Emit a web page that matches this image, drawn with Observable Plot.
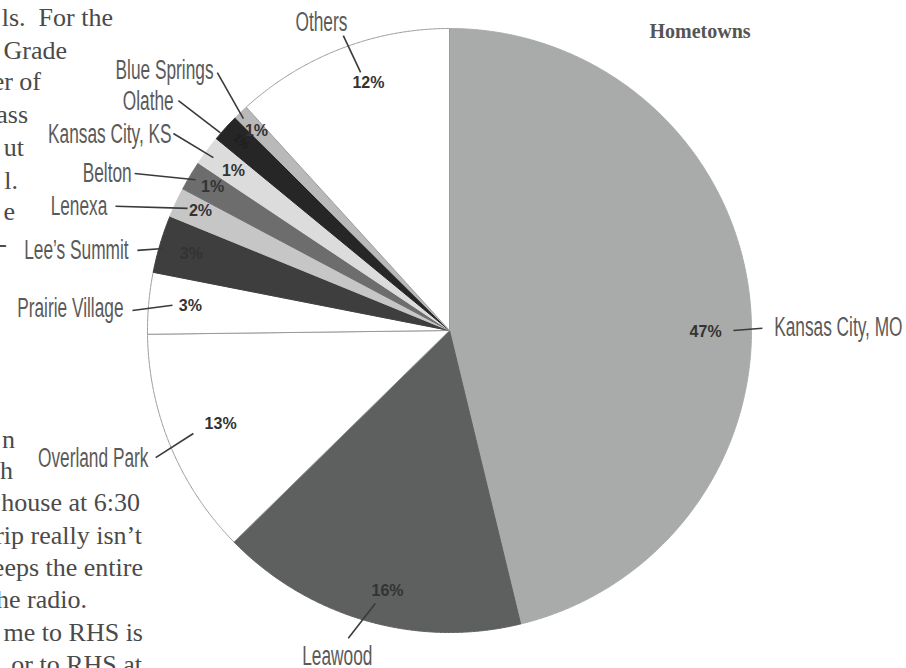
<!DOCTYPE html>
<html>
<head>
<meta charset="utf-8">
<script src="https://cdn.jsdelivr.net/npm/d3@7"></script>
<script src="https://cdn.jsdelivr.net/npm/@observablehq/plot@0.6"></script>
<style>
html, body { margin: 0; padding: 0; background: #fff; }
#wrap { position: relative; width: 906px; height: 668px; overflow: hidden; background: #fff; }
#wrap > svg { position: absolute; left: 0; top: 0; }
</style>
</head>
<body>
<div id="wrap"></div>
<script>
// ---- data ----
const towns   = ["Kansas City, MO", "Leawood", "Overland Park", "Prairie Village", "Lee\u2019s Summit", "Lenexa", "Belton", "Kansas City, KS", "Olathe", "Blue Springs", "Others"];
const shares  = [46.4, 16.5, 12.2, 3.3, 3.1, 1.6, 1.6, 1.6, 1.5, 0.8, 11.8];   // slice sizes as drawn
const printed = ["47%", "16%", "13%", "3%", "3%", "2%", "1%", "1%", "1%", "1%", "12%"];
const shades  = ["#a9abaa", "#5e5f5f", "#ffffff", "#ffffff", "#3e3e3e", "#c6c6c6", "#6d6d6d", "#dcdcdc", "#262626", "#b9b9b9", "#ffffff"];
const chartTitle = "Hometowns";

// ---- label layout, polar [degrees clockwise from 12 o'clock, radius in pie radii] ----
const pctAt      = [[90.2,0.848],[193.4,0.885],[247.9,0.818],[275.5,0.862],[286.6,0.892],[295.7,0.915],[301.3,0.918],[306.5,0.890],[312.2,0.930],[316.0,0.920],[341.9,0.864]];
const leaderFrom = [[90.0,0.940],[195.2,0.937],[248.1,0.914],[275.2,0.921],[286.0,0.985],[295.0,0.957],[300.7,0.978],[306.2,0.969],[310.8,1.002],[315.8,0.979],[341.0,0.904]];
const leaderTo   = [[89.6,1.036],[198.2,1.073],[246.6,1.060],[273.6,1.052],[284.4,1.067],[290.4,1.180],[296.5,1.165],[305.5,1.123],[310.3,1.177],[318.0,1.149],[340.2,1.038]];
const nameAt     = [[89.5,1.075],[199.0,1.141],[247.0,1.083],[273.9,1.082],[284.0,1.095],[289.9,1.205],[296.3,1.174],[305.2,1.126],[309.7,1.187],[317.8,1.163],[337.4,1.104]];
const nameAnchor = ["start","middle","end","end","end","end","end","end","end","end","middle"];

// surrounding article text (cut off by the page edge)
const bodyText  = ["ls.  For the", "Grade", "er of", "ass", "ut", "l.", "e", "-", "n", "h", "house at 6:30", "rip really isn\u2019t", "eeps the entire", "he radio.", "me to RHS is", "or to RHS at"];
const bodyRight = [113, 67, 41, 28, 24, 18, 15, 7, 15, 13, 140, 142, 143, 87, 143, 142];
const bodyMid   = [20, 53, 84, 117, 150, 183, 214, 246, 442, 473, 505, 538, 570, 602, 635, 667];

// ---- geometry ----
const W = 906, H = 668, cx = 449, cy = 330, R = 302;
const polar = ([deg, r]) => { const a = deg * Math.PI / 180; return [r * Math.sin(a), r * Math.cos(a)]; };

const rows = towns.map((t, i) => ({town: t, share: shares[i], pct: printed[i], shade: shades[i]}));
const arcs = d3.pie().sort(null).value(d => d.share)(rows);

const slicePts = [];
arcs.forEach(a => {
  const d = a.data;
  const stroke = d.shade === "#ffffff" ? "#9a9a9a" : d.shade;
  const n = Math.max(4, Math.ceil((a.endAngle - a.startAngle) / (Math.PI / 720)));
  slicePts.push({town: d.town, x: 0, y: 0, fill: d.shade, stroke});
  for (let k = 0; k <= n; k++) {
    const ang = a.startAngle + (a.endAngle - a.startAngle) * k / n;
    slicePts.push({town: d.town, x: Math.sin(ang), y: Math.cos(ang), fill: d.shade, stroke});
  }
  slicePts.push({town: d.town, x: 0, y: 0, fill: d.shade, stroke});
});

const labels = rows.map((d, i) => {
  const [px, py] = polar(pctAt[i]);
  const [x1, y1] = polar(leaderFrom[i]);
  const [x2, y2] = polar(leaderTo[i]);
  const [nx, ny] = polar(nameAt[i]);
  return {...d, px, py, x1, y1, x2, y2, nx, ny, anchor: nameAnchor[i], dark: d.shade === "#262626"};
});

const nameFont = {fontFamily: "'Liberation Sans', Arial, sans-serif", fontSize: 27, fill: "#5a5a5a"};
const pctFont = {fontFamily: "'Liberation Sans', Arial, sans-serif", fontWeight: "bold"};

const chart = Plot.plot({
  width: W, height: H,
  marginTop: 0, marginRight: 0, marginBottom: 0, marginLeft: 0,
  x: {domain: [-cx / R, (W - cx) / R], axis: null},
  y: {domain: [-(H - cy) / R, cy / R], axis: null},
  color: {type: "identity"},
  style: {background: "transparent", overflow: "visible"},
  marks: [
    Plot.line(slicePts, {x: "x", y: "y", z: "town", fill: "fill", stroke: "stroke", strokeWidth: 1, strokeLinejoin: "round", curve: "linear"}),
    Plot.link(labels, {x1: "x1", y1: "y1", x2: "x2", y2: "y2", stroke: "#3a3a3a", strokeWidth: 1.6}),
    Plot.text(labels.filter(d => !d.dark), {x: "px", y: "py", text: "pct", ...pctFont, fontSize: 16, fill: "#333333"}),
    // the black slice's label sits inside it (barely visible, as in the print)
    Plot.text(labels.filter(d => d.dark), {x: "px", y: "py", text: "pct", ...pctFont, fontSize: 12, rotate: 42, fill: "#1e1e1e"}),
    Plot.text(labels.filter(d => d.anchor === "start"), {x: "nx", y: "ny", text: "town", textAnchor: "start", ...nameFont}),
    Plot.text(labels.filter(d => d.anchor === "end"), {x: "nx", y: "ny", text: "town", textAnchor: "end", ...nameFont}),
    Plot.text(labels.filter(d => d.anchor === "middle"), {x: "nx", y: "ny", text: "town", textAnchor: "middle", ...nameFont})
  ]
});

const wrap = document.getElementById("wrap");

// article text and heading layer
const page = d3.select(wrap).append("svg").attr("width", W).attr("height", H);
page.selectAll("text.body").data(bodyText).join("text")
  .attr("class", "body")
  .attr("x", (d, i) => bodyRight[i])
  .attr("y", (d, i) => bodyMid[i] + 6)
  .attr("text-anchor", "end")
  .attr("font-family", "'Liberation Serif', 'DejaVu Serif', serif")
  .attr("font-size", 26)
  .attr("fill", "#4a4a4a")
  .style("white-space", "pre")
  .text(d => d);
page.append("text")
  .attr("x", 700).attr("y", 38)
  .attr("text-anchor", "middle")
  .attr("font-family", "'Liberation Serif', serif")
  .attr("font-weight", "bold")
  .attr("font-size", 20)
  .attr("fill", "#555")
  .text(chartTitle);

wrap.appendChild(chart);

// condense the town names horizontally (the original uses a tall condensed face)
const townSet = new Set(towns);
d3.select(chart).selectAll("text").filter(function () { return townSet.has(this.textContent); }).each(function () {
  const len = this.getComputedTextLength();
  this.setAttribute("textLength", (len * 0.64).toFixed(1));
  this.setAttribute("lengthAdjust", "spacingAndGlyphs");
});
</script>
</body>
</html>
